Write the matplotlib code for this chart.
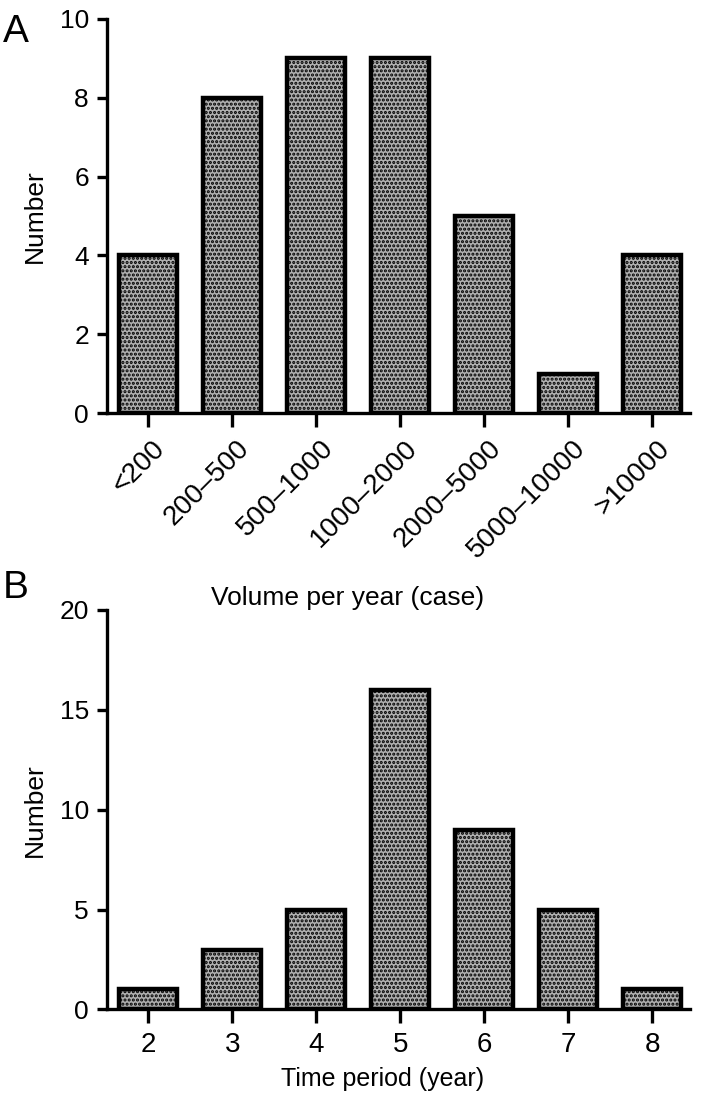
import matplotlib.pyplot as plt
from matplotlib.transforms import ScaledTranslation

plt.rcParams['font.family'] = ['Liberation Sans', 'DejaVu Sans']
plt.rcParams['hatch.linewidth'] = 1.5

vol_cats = ['<200', '200\u2013500', '500\u20131000', '1000\u20132000',
            '2000\u20135000', '5000\u201310000', '>10000']
vol_counts = [4, 8, 9, 9, 5, 1, 4]

years = ['2', '3', '4', '5', '6', '7', '8']
year_counts = [1, 3, 5, 16, 9, 5, 1]

fig = plt.figure(figsize=(7.19, 11.02), dpi=100)
axA = fig.add_axes([0.1488, 0.6252, 0.8112, 0.3576])
axB = fig.add_axes([0.1488, 0.0840, 0.8112, 0.3625])


def style(ax, ymax, step):
    for s in ['top', 'right']:
        ax.spines[s].set_visible(False)
    for s in ['left', 'bottom']:
        ax.spines[s].set_linewidth(2.4)
    ax.set_ylim(0, ymax)
    ax.set_yticks(range(0, ymax + 1, step))
    ax.set_xlim(-0.49, 6.45)
    ax.tick_params(axis='y', length=7, width=2.4, labelsize=19, pad=6)
    ax.tick_params(axis='x', length=10, width=2.4, labelsize=20, pad=6)


def bars(ax, labels, vals):
    x = range(len(vals))
    ax.bar(x, vals, width=0.69, facecolor='#b0b0b0', edgecolor='black',
           linewidth=3.2, hatch='....', zorder=2)
    ax.set_xticks(list(x))
    ax.set_xticklabels(labels)


bars(axA, vol_cats, vol_counts)
style(axA, 10, 2)
shift = ScaledTranslation(4 / 100, 0, fig.dpi_scale_trans)
for lab in axA.get_xticklabels():
    lab.set_rotation(45)
    lab.set_ha('right')
    lab.set_va('top')
    lab.set_rotation_mode('anchor')
    lab.set_transform(lab.get_transform() + shift)
axA.set_ylabel('Number', fontsize=19)
axA.yaxis.set_label_coords(-0.103, 0.5)
axA.set_xlabel('Volume per year (case)', fontsize=19)
axA.xaxis.set_label_coords(0.413, -0.44)

bars(axB, years, year_counts)
style(axB, 20, 5)
axB.set_ylabel('Number', fontsize=19)
axB.yaxis.set_label_coords(-0.103, 0.5)
axB.set_xlabel('Time period (year)', fontsize=18)
axB.xaxis.set_label_coords(0.473, -0.145)

fig.text(0.004, 0.962, 'A', fontsize=28)
fig.text(0.004, 0.457, 'B', fontsize=28)

fig.savefig('out.png', dpi=100)
